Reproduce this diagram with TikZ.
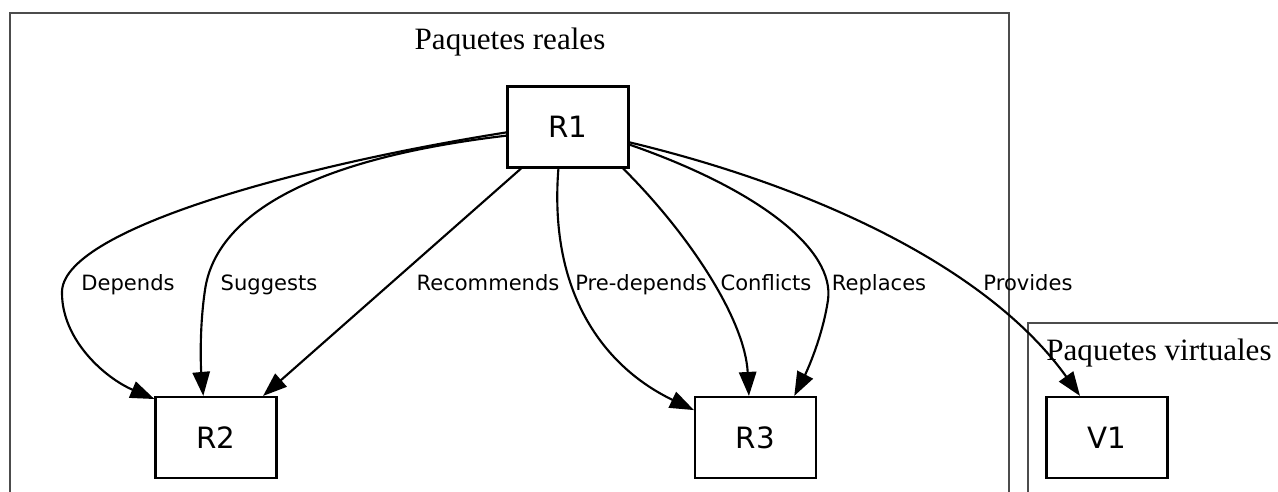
\documentclass[tikz,border=0pt]{standalone}
\usepackage{fontspec}
\setmainfont{DejaVu Sans}
\newfontfamily\titlefont{Liberation Serif}
\usetikzlibrary{arrows.meta}
\tikzset{
  pkg/.style={draw=black, line width=1.6pt, minimum width=90.75pt, minimum height=60.75pt, inner sep=0pt, font=\fontsize{22}{24}\selectfont},
  edge/.style={draw=black, line width=1.6pt, -{Triangle[length=18pt,width=13pt]}},
  elabel/.style={anchor=base, inner sep=0pt, font=\fontsize{15.8}{18}\selectfont},
  ctitle/.style={anchor=base, inner sep=0pt, font=\titlefont\fontsize{23.3}{26}\selectfont},
  cluster/.style={draw=black!70, line width=1.8pt}
}
\begin{document}
\begin{tikzpicture}[x=0.75pt,y=-0.75pt]
\useasboundingbox (0,0) rectangle (1278,492);
\clip (0,0) rectangle (1278,492);
\fill[white] (0,0) rectangle (1278,492);
% clusters
\draw[cluster] (10,520) -- (10,13) -- (1009,13) -- (1009,520);
\draw[cluster] (1028,520) -- (1028,323) -- (1300,323);
\node[ctitle] (treal) at (510,50) {Paquetes reales};
\node[ctitle] (tvirt) at (1159,360) {Paquetes virtuales};
% nodes
\node[pkg] (R1) at (568,127) {R1};
\node[pkg] (R2) at (216,437.5) {R2};
\node[pkg] (R3) at (755.5,437.5) {R3};
\node[pkg] (V1) at (1107,437.5) {V1};
% edges
\draw[edge] (R1.185) .. controls (300,165) and (60,230) .. (62,293)
  .. controls (62,340) and (105,378) .. (R2.148);
\draw[edge] (R1.188) .. controls (300,160) and (215,220) .. (205,290)
  .. controls (199,330) and (201,370) .. (R2.107);
\draw[edge] (R1) -- (R2);
\draw[edge] (R1.257) .. controls (548,300) and (610,370) .. (R3.156);
\draw[edge] (R1.323) .. controls (690,235) and (745,320) .. (R3.99);
\draw[edge] (R1.344) .. controls (760,190) and (835,250) .. (828,300)
  .. controls (822,340) and (805,375) .. (R3.47);
\draw[edge] (R1.346) .. controls (820,188) and (990,270) .. (V1.123);
% edge labels
\node[elabel] (lDep) at (128,290) {Depends};
\node[elabel] (lSug) at (269,290) {Suggests};
\node[elabel] (lRec) at (488,290) {Recommends};
\node[elabel] (lPre) at (641,290) {Pre-depends};
\node[elabel] (lCon) at (766,290) {Conflicts};
\node[elabel] (lRep) at (879,290) {Replaces};
\node[elabel] (lPro) at (1028,290) {Provides};
\end{tikzpicture}
\end{document}
